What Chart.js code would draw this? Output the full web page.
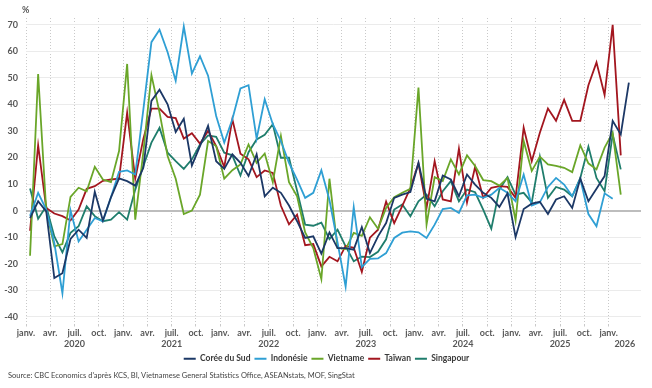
<!DOCTYPE html>
<html><head><meta charset="utf-8">
<script src="https://cdn.jsdelivr.net/npm/chart.js@4.4.1/dist/chart.umd.min.js"></script>
<style>
html,body{margin:0;padding:0;background:#fff;}
#wrap{width:652px;height:388px;position:relative;}
#src{position:absolute;left:8px;top:370px;font:7.5px Lato;color:#444;white-space:nowrap;line-height:12px;}
</style>
</head><body><div id="wrap"><canvas id="c" width="652" height="388"></canvas>
<div id="src">Source: CBC Economics d'après KCS, BI, Vietnamese General Statistics Office, ASEANstats, MOF, SingStat</div></div>
<script>
// Quarter tick labels (Jan, Apr, Jul, Oct) and year labels
const quarterLabels = ['janv.', 'avr.', 'juil.', 'oct.'];
const yearLabels = ['2020', '2021', '2022', '2023', '2024', '2025', '2026'];
const yTicks = [-40, -30, -20, -10, 0, 10, 20, 30, 40, 50, 60, 70];
const seriesNames = ['Corée du Sud', 'Indonésie', 'Vietname', 'Taïwan', 'Singapour'];

// Monthly values, Jan 2020 .. Mar 2026 (y/y % change)
const korea = [-2.8, 3.5, -0.3, -25.4, -23.6, -10.7, -7.2, -10.3, 7.1, -3.7, 5, 12.1,
  11.1, 9.4, 16.1, 41.3, 45.5, 40, 29.6, 34.6, 17, 24.3, 31.9, 18.6,
  15.7, 21.2, 18, 13, 21.2, 5.4, 8.6, 6.7, 1.9, -4, -10.3, -9.7,
  -16.2, -8.2, -14.1, -14.1, -14.7, -6.2, -16, -9.7, -4.7, 4.8, 6, 7,
  18, 4.4, 3.5, 13.2, 11.7, 5.4, 13.6, 9.8, 6.7, 4.8, 1.4, 6.5,
  -10, 0.6, 2.6, 3.3, -1.3, 4.2, 5.4, 1, 12.1, 3.5, 8.2, 13,
  33.8, 28.7, 48.2];
const indonesia = [-2, 6.7, 0.4, -12.2, -31.1, 0.1, -11.6, -7.2, -2.8, -4, 5, 14.6,
  15.1, 13.6, 38, 63.4, 68.1, 59.6, 48.9, 69.3, 51.6, 58.1, 50.8, 35.6,
  25.6, 34.4, 46, 47.2, 27.1, 41.9, 32.5, 26.2, 18, 11.7, 4.8, 6.7,
  15.2, 4, -12, -28.6, 1.3, -21.3, -18.2, -18, -16, -10.3, -8.3, -7.8,
  -8.2, -10.3, -5.3, 0.6, 1, -0.9, 5.7, 6, 4.8, 6, 8.6, 6.7,
  3.5, 13.6, 1.9, 3.1, 8.9, 12.3, 9.8, 5.4, 12, -1.3, -5.9, 6.5,
  4.5, null, null];
const vietnam = [-17, 51.4, 0, -13.5, -12.6, 5.2, 8.6, 7.3, 16.5, 11.7, 10.7, 22.4,
  55.2, -3.4, 22, 51, 37, 20.5, 12, -1.3, 0, 6, 26.2, 24.3,
  12, 15.2, 17.4, 24.9, 18, 21.5, 10.7, 28.1, 10.7, 5.4, -8.2, -14.1,
  -25.8, 12, -14.1, -14.5, -8.4, -9.5, -2.5, -6.8, 1, 5, 6.7, 8.2,
  46.3, -5.3, 12.6, 11.1, 19.3, 13.6, 20.8, 16.8, 11.5, 11.1, 9.4, 12.3,
  -3.7, 26.2, 14.9, 20.3, 17.4, 16.8, 16.1, 14.5, 24.6, 17.8, 15.5, 23.7,
  29.3, 6, null];
const taiwan = [-7.6, 24.6, 1, -1.1, -2.1, -3.7, 0.4, 8.2, 9.2, 11.2, 11.7, 12,
  36.9, 12, 27, 38.4, 38.4, 35.3, 34.8, 27.1, 29.1, 25.2, 30, 24.3,
  16.4, 34.4, 21.4, 19.3, 12.6, 15.1, 14.2, 1.8, -5.2, -1.5, -13, -12.6,
  -21, -17.4, -19.1, -13.3, -14, -23.1, -10.2, -7.2, 3.4, -4.7, 1.8, 8.5,
  17.8, 1, 18.6, 4.2, 3.5, 23.3, 3.1, 16.5, 4.8, 8.6, 9.2, 8.9,
  4.8, 31.2, 18.6, 29.3, 38.4, 33.8, 41.7, 33.8, 33.8, 47.2, 55.8, 43.5,
  69.9, 20.8, null];
const singapore = [8.3, -3.1, 1.6, -9.7, -15.7, -8.4, -5.9, 1.6, -2.1, -4, -3.4, -0.6,
  -3.4, 7.9, 16.7, 25.6, 31.2, 21.8, 18.6, 15.7, 19.3, 24.9, 28.3, 27.8,
  21.8, 20.8, 13.2, 22, 26.8, 28.5, 32.5, 19.9, 19.9, 7.5, -5.3, -5.7,
  -4.5, -10.7, -7.2, -13.5, -19.1, -17.3, -17.5, -15.5, -10.8, 0.4, 2.3, -2.1,
  3.5, 6, 1.6, 7.3, 11.1, 3.5, 7.9, 6.9, 0.4, -6.8, 7.9, 12.6,
  6, 6.7, 3.1, 20.3, 4.8, 8.9, 7.9, 5.4, 12.3, 24.1, 12.3, 7.3,
  28.7, 15.5, null];

const colors = ['#1c3866', '#2f9fd4', '#6aa629', '#a3161f', '#1f7d6c'];
const allSeries = [korea, indonesia, vietnam, taiwan, singapore];
const nMonths = korea.length;          // months Jan 2020 .. Mar 2026
const axisMonths = nMonths + 1;        // axis runs to Apr 2026

// x value = month index + 0.5 (mid-month)
const datasets = allSeries.map((s, k) => ({
  label: seriesNames[k],
  data: s.map((v, i) => ({ x: i + 0.5, y: v })),
  borderColor: colors[k],
  backgroundColor: colors[k],
  borderWidth: 1.8,
  pointRadius: 0,
  tension: 0,
  spanGaps: false
}));

// Year label positions: middle of each year's visible span
const yearTickValues = yearLabels.map((y, k) => {
  const s = k * 12, e = Math.min(s + 12, axisMonths);
  return (s + e) / 2;
});

const tickFont = { family: 'Lato', size: 9, weight: 'bold' };
const tickColor = '#575757';

const pctPlugin = {
  id: 'pct',
  afterLayout(chart) {
    if (chart.legend) { chart.legend.left += 6; chart.legend.right += 6; }
  },
  afterDraw(chart) {
    const ctx = chart.ctx;
    ctx.save();
    ctx.font = 'bold 9px Lato';
    ctx.fillStyle = tickColor;
    ctx.textAlign = 'left';
    ctx.textBaseline = 'middle';
    ctx.fillText('%', 22, 10);
    ctx.restore();
  }
};

new Chart(document.getElementById('c'), {
  type: 'line',
  data: { datasets },
  options: {
    responsive: false,
    animation: false,
    devicePixelRatio: 1,
    layout: { padding: { top: 18, right: 11, left: 0, bottom: 15 } },
    plugins: {
      legend: {
        position: 'bottom',
        labels: {
          usePointStyle: true, pointStyle: 'line', pointStyleWidth: 12,
          boxHeight: 2, padding: 4,
          color: '#3a3a3a', font: { family: 'Lato', size: 8.5, weight: 'bold' }
        }
      },
      tooltip: { enabled: false }
    },
    scales: {
      x: {
        type: 'linear', position: 'bottom', min: 0, max: axisMonths,
        afterFit(s) { s.height = 14; },
        grid: { color: '#c9c9c9', lineWidth: 1, drawTicks: true, tickLength: 3 },
        border: { display: false, dash: [1, 2] },
        ticks: {
          stepSize: 3, autoSkip: false, maxRotation: 0, padding: 1,
          color: tickColor, font: tickFont,
          callback: v => quarterLabels[(v % 12) / 3]
        }
      },
      x2: {
        type: 'linear', position: 'bottom', min: 0, max: axisMonths,
        afterFit(s) { s.height = 13; },
        afterBuildTicks(s) { s.ticks = yearTickValues.map(v => ({ value: v })); },
        grid: { display: false, drawTicks: false },
        border: { display: false },
        ticks: {
          autoSkip: false, maxRotation: 0, padding: 1,
          color: tickColor, font: tickFont,
          callback: (v, i) => yearLabels[i]
        }
      },
      y: {
        min: -42.5, max: 72.5,
        afterFit(s) { s.width = 26; },
        afterBuildTicks(s) { s.ticks = yTicks.map(v => ({ value: v })); },
        grid: {
          drawTicks: false,
          color: c => (c.tick && c.tick.value === 0) ? '#bdbdbd' : '#ebebeb',
          lineWidth: c => (c.tick && c.tick.value === 0) ? 2 : 1
        },
        border: { display: false },
        ticks: { padding: 8, color: tickColor, font: tickFont }
      }
    }
  },
  plugins: [pctPlugin]
});
</script>
</body></html>
